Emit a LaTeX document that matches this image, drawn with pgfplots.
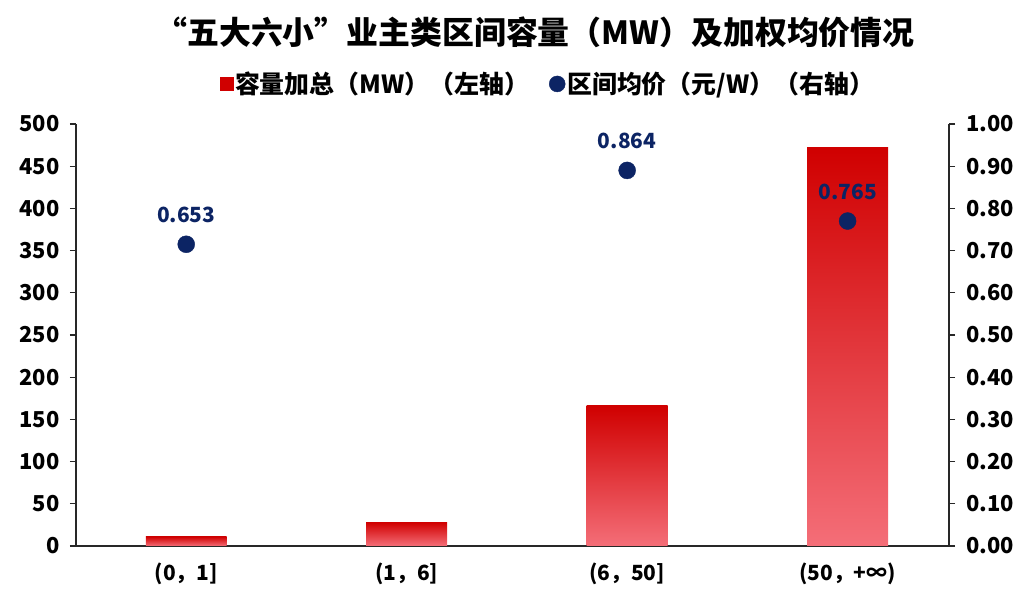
\documentclass[border=0pt]{standalone}
\usepackage{pgfplots}
\pgfplotsset{compat=1.18}
\usepackage{fontspec}
\setmainfont{Noto Sans CJK SC}
\definecolor{barTop}{RGB}{208,0,0}
\definecolor{barMid}{RGB}{236,26,38}
\definecolor{barBot}{RGB}{244,110,120}
\definecolor{navy}{RGB}{12,36,100}
\definecolor{axisgray}{RGB}{40,40,40}
\pgfplotsset{
  redbar/.style={ybar, bar shift=0pt, bar width=0.367, draw=none,
    top color=barTop, middle color=barMid, bottom color=barBot},
}
\begin{document}
\begin{tikzpicture}
\fill[white] (0,0) rectangle (1024bp,596bp);
\useasboundingbox (0,0) rectangle (1024bp,596bp);
\node[font=\fontsize{32}{38}\selectfont\bfseries] at (535bp,564bp) {“五大六小”业主类区间容量（MW）及加权均价情况};
\begin{axis}[
  at={(76bp,50bp)}, anchor=south west,
  scale only axis, width=873bp, height=422bp,
  xmin=-0.5, xmax=3.46, ymin=0, ymax=500,
  axis y line*=left, axis x line*=bottom,
  axis line style={-, axisgray, line width=1.3bp},
  ytick={0,50,100,150,200,250,300,350,400,450,500},
  xtick={0,1,2,3},
  xticklabels={{(0，1]},{(1，6]},{(6，50]},{(50，+∞)}},
  tick align=outside, major tick length=6bp,
  tick style={axisgray, line width=1.3bp},
  xtick style={draw=none},
  /pgf/number format/assume math mode=true,
  yticklabel style={font=\fontsize{22}{24}\selectfont\bfseries, xshift=-7bp},
  xticklabel style={font=\fontsize{21}{24}\selectfont\bfseries, yshift=-7bp},
  legend columns=2,
  legend cell align=left,
  legend style={at={(0.5405,1.095)}, anchor=center, draw=none, fill=none,
    font=\fontsize{25}{28}\selectfont\bfseries,
    /tikz/every even column/.append style={column sep=18bp}},
]
\addlegendimage{legend image code/.code={\fill[barTop] (2bp,-6.5bp) rectangle (15bp,6.5bp);}}
\addlegendentry{容量加总（MW）（左轴）}
\addlegendimage{only marks, mark=*, mark size=8bp, navy}
\addlegendentry{区间均价（元/W）（右轴）}
\addplot[redbar, forget plot] coordinates {(0,11)};
\addplot[redbar, forget plot] coordinates {(1,28)};
\addplot[redbar, forget plot] coordinates {(2,166)};
\addplot[redbar, forget plot] coordinates {(3,472)};
\end{axis}
\begin{axis}[
  at={(76bp,50bp)}, anchor=south west,
  scale only axis, width=873bp, height=422bp,
  xmin=-0.5, xmax=3.46, ymin=0, ymax=1,
  axis y line*=right, axis x line=none,
  axis line style={-, axisgray, line width=1.3bp},
  ytick={0,0.1,0.2,0.3,0.4,0.5,0.6,0.7,0.8,0.9,1.0},
  tick align=outside, major tick length=6bp,
  tick style={axisgray, line width=1.3bp},
  /pgf/number format/fixed,
  /pgf/number format/fixed zerofill,
  /pgf/number format/precision=2,
  /pgf/number format/assume math mode=true,
  yticklabel style={font=\fontsize{22}{24}\selectfont\bfseries, xshift=8bp},
]
\addplot[only marks, mark=*, mark size=8.5bp, navy,
  nodes near coords, point meta=explicit symbolic,
  every node near coord/.append style={font=\fontsize{21}{24}\selectfont\bfseries, text=navy, inner sep=0pt, anchor=south, yshift=21bp}]
  coordinates {(0,0.715)[0.653] (2,0.890)[0.864] (3,0.770)[0.765]};
\end{axis}
\end{tikzpicture}
\end{document}
